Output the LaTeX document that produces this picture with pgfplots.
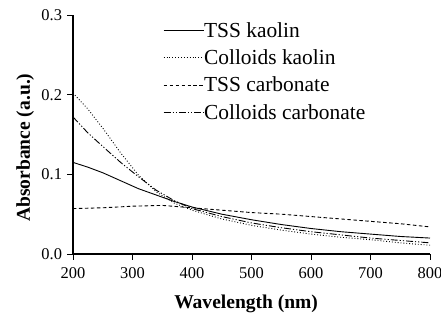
\documentclass[border=0pt]{standalone}
\usepackage{pgfplots}
\pgfplotsset{compat=1.18}
\usepackage{fontspec}
\setmainfont{Liberation Serif}
\begin{document}
\begin{tikzpicture}
\useasboundingbox (-73bp,-61bp) rectangle (368bp,254bp);
\begin{axis}[
  at={(0,0)}, anchor=south west,
  scale only axis, width=357bp, height=239bp,
  xmin=200, xmax=800, ymin=0, ymax=0.3,
  xtick={200,300,...,800}, ytick={0,0.1,0.2,0.3},
  axis x line*=bottom, axis y line*=left,
  axis line style={line width=1.1pt, -},
  tick align=outside, major tick length=5.5bp,
  tick style={line width=1pt, black},
  /pgf/number format/assume math mode=true,
  scaled y ticks=false,
  ticklabel style={font=\fontsize{16.5}{19}\selectfont},
  xticklabel style={anchor=base, yshift=-19bp},
  yticklabel style={xshift=-2bp, /pgf/number format/.cd, fixed, fixed zerofill, precision=1},
  xlabel={\textbf{Wavelength (nm)}},
  ylabel={\textbf{Absorbance (a.u.)}},
  label style={font=\fontsize{19.6}{23}\selectfont},
  xlabel style={at={(axis description cs:0.485,0)}, anchor=base, yshift=-54bp},
  ylabel style={at={(axis description cs:-0.134,0.445)}, anchor=center},
  legend style={at={(axis description cs:0.252,0.97)}, anchor=north west, draw=none, fill=none,
    font=\fontsize{21.5}{24}\selectfont, row sep=11bp, inner sep=0pt,
    nodes={inner sep=0pt},
    legend cell align=left, /tikz/every even column/.append style={column sep=1bp}},
  legend image code/.code={\draw[#1] plot coordinates {(0bp,0bp) (40bp,0bp)};},
  every axis plot/.append style={black, line width=0.9pt},
]
\addplot[solid] coordinates {(200,0.115) (225,0.109) (250,0.102) (280,0.092) (310,0.082) (340,0.074) (370,0.066) (400,0.059) (450,0.050) (500,0.043) (550,0.037) (600,0.032) (650,0.028) (700,0.025) (750,0.022) (800,0.020)};
\addlegendentry{TSS kaolin}
\addplot[dotted] coordinates {(200,0.202) (225,0.182) (250,0.158) (280,0.127) (310,0.099) (340,0.078) (370,0.064) (400,0.055) (450,0.044) (500,0.036) (550,0.030) (600,0.025) (650,0.021) (700,0.018) (750,0.014) (800,0.011)};
\addlegendentry{Colloids kaolin}
\addplot[dash pattern=on 3.5pt off 2.5pt] coordinates {(200,0.057) (250,0.058) (300,0.060) (350,0.061) (400,0.058) (450,0.055) (500,0.052) (550,0.050) (600,0.047) (650,0.044) (700,0.041) (750,0.038) (800,0.034)};
\addlegendentry{TSS carbonate}
\addplot[dash pattern=on 7pt off 2pt on 1.2pt off 2pt on 1.2pt off 2pt] coordinates {(200,0.172) (225,0.152) (250,0.135) (280,0.115) (310,0.097) (340,0.080) (370,0.067) (400,0.057) (450,0.047) (500,0.039) (550,0.033) (600,0.028) (650,0.024) (700,0.020) (750,0.017) (800,0.014)};
\addlegendentry{Colloids carbonate}
\end{axis}
\end{tikzpicture}
\end{document}
